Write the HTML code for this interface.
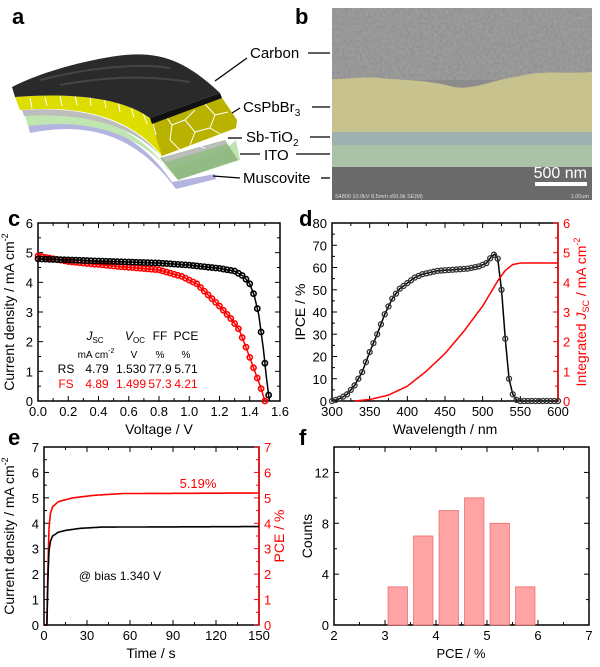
<!DOCTYPE html>
<html><head><meta charset="utf-8">
<style>
html,body{margin:0;padding:0;background:#fff;}
svg{display:block;font-family:"Liberation Sans",Arial,sans-serif;}
</style></head>
<body>
<svg id="s" width="600" height="667" viewBox="0 0 600 667" xmlns="http://www.w3.org/2000/svg">
<defs>
<filter id="tex" x="0" y="0" width="100%" height="100%">
<feTurbulence type="fractalNoise" baseFrequency="0.35" numOctaves="2" seed="3"/>
<feColorMatrix type="matrix" values="0 0 0 0 0.5  0 0 0 0 0.5  0 0 0 0 0.5  0 0 0 0.9 0"/>
<feComposite in2="SourceGraphic" operator="in"/>
</filter>
</defs>
<g font-weight="bold" font-size="22">
<text x="12" y="24">a</text><text x="295" y="24">b</text>
<text x="8" y="226">c</text><text x="299" y="226">d</text>
<text x="8" y="445">e</text><text x="299" y="445">f</text>
</g>
<g>
<path d="M28,125 C95,112 140,135 172,182 L215,174 L216,179 L176,189 C140,140 95,120 30,133 Z" fill="#b4b4e0"/>
<path d="M25,116 C92,108 138,128 168,170 L222,152 L236,140 L240,160 L178,180 C142,135 95,118 28,126 Z" fill="#bfe6b0"/>
<path d="M160,158 L225,140 L238,160 L178,180 Z" fill="#8db680" opacity="0.9"/>
<path d="M22,110 C90,105 137,124 162,158 L225,140 L226,144 L166,162 C138,128 92,112 24,116 Z" fill="#bdbdbd"/>
<path d="M15,97 C80,92 125,100 150,118 L222,98 L237,120 L236,128 L162,156 C135,122 90,104 20,110 Z" fill="#dddd00"/>
<path d="M150,118 L222,98 L237,120 L236,128 L162,156 Z" fill="#b9b300"/>
<g stroke="#fff" stroke-width="1" fill="none">
<path d="M30,98 L32,108 M45,97 L47,106 M60,96 L62,106 M75,95 L77,105 M90,96 L91,106 M104,97 L106,108 M118,100 L120,112 M130,104 L134,117 M142,110 L147,124 M152,120 L156,135"/>
<path d="M165,115 L172,125 L185,120 L195,110 M172,125 L170,140 L180,150 M185,120 L195,132 L210,128 L215,115 L205,104 M195,132 L190,145 M210,128 L222,135 M180,150 L195,145 L205,148 M215,115 L228,112"/>
</g>
<path d="M12,87 C45,70 95,58 125,55 C160,52 185,60 220,93 L150,118 C125,100 80,92 15,97 Z" fill="#2a2a2a"/>
<path d="M150,118 L220,93 L222,98 L152,124 Z" fill="#111"/>
<path d="M40,80 C80,70 130,62 170,68 M60,85 C100,78 140,74 190,82" stroke="#444" stroke-width="2" fill="none"/>
</g>
<g font-size="15" fill="#000">
<text x="250" y="58">Carbon</text>
<text x="243" y="112">CsPbBr<tspan font-size="10" dy="4">3</tspan></text>
<text x="246" y="142">Sb-TiO<tspan font-size="10" dy="4">2</tspan></text>
<text x="264" y="160">ITO</text>
<text x="243" y="183">Muscovite</text>
</g>
<g stroke="#000" stroke-width="1.3">
<line x1="308" y1="53" x2="330" y2="53"/><line x1="247" y1="58" x2="215" y2="81"/>
<line x1="312" y1="107" x2="330" y2="107"/><line x1="240" y1="108" x2="232" y2="113"/>
<line x1="310" y1="137" x2="330" y2="137"/><line x1="242" y1="138" x2="228" y2="138"/>
<line x1="296" y1="154" x2="330" y2="154"/><line x1="260" y1="154" x2="240" y2="154"/>
<line x1="321" y1="178" x2="330" y2="178"/><line x1="240" y1="178" x2="213" y2="176"/>
</g>
<g>
<rect x="332" y="8" width="260" height="192" fill="#6e6e6e"/>
<path d="M332,8 H592 V72 C570,74 540,70 520,76 C490,80 470,92 450,86 C430,80 400,80 380,78 C360,76 345,80 332,79 Z" fill="#8c8c8c"/>
<rect x="332" y="8" width="260" height="72" fill="#999" filter="url(#tex)" opacity="0.55"/>
<path d="M332,79 C345,80 360,76 380,78 C400,80 430,80 450,86 C470,92 490,80 520,76 C540,70 570,74 592,72 V132 H332 Z" fill="#c8c38e"/>
<rect x="332" y="132" width="260" height="13" fill="#9fb0b0"/>
<rect x="332" y="145" width="260" height="22" fill="#a9c2a8"/>
<rect x="332" y="167" width="260" height="33" fill="#6a6a6a"/>
<text x="587" y="178" font-size="16" fill="#fff" text-anchor="end">500 nm</text>
<rect x="535" y="182" width="52" height="4" fill="#fff"/>
<text x="335" y="198" font-size="5.5" fill="#ddd">S4800 10.0kV 8.5mm x50.0k SE(M)</text>
<text x="589" y="198" font-size="5.5" fill="#ddd" text-anchor="end">1.00um</text>
</g>
<g id="plots"></g>
</svg>
<script>
const P=document.getElementById('plots');
let h='';
function T(x,y,s,o){o=o||{};h+=`<text x="${x}" y="${y}" font-size="${o.fs||13}" fill="${o.c||'#000'}" text-anchor="${o.a||'middle'}"${o.r?` transform="rotate(-90 ${x} ${y})"`:''}>${s}</text>`;}
function L(x1,y1,x2,y2,c,w){h+=`<line x1="${x1}" y1="${y1}" x2="${x2}" y2="${y2}" stroke="${c||'#000'}" stroke-width="${w||1}"/>`;}
function interp(pts,x){for(let i=0;i<pts.length-1;i++){if(x>=pts[i][0]&&x<=pts[i+1][0]){const t=(x-pts[i][0])/(pts[i+1][0]-pts[i][0]);return pts[i][1]+t*(pts[i+1][1]-pts[i][1]);}}return pts[pts.length-1][1];}
function axes(x0,x1,y0,y1,xmin,xmax,xt,xminor,ymin,ymax,yt,yminor,fmtx,fmty,rightRed){
 h+=`<rect x="${x0}" y="${y1}" width="${x1-x0}" height="${y0-y1}" fill="none" stroke="#000" stroke-width="1.5"/>`;
 const X=v=>x0+(v-xmin)/(xmax-xmin)*(x1-x0), Y=v=>y0-(v-ymin)/(ymax-ymin)*(y0-y1);
 for(let v=xmin;v<=xmax+1e-9;v+=xminor){const maj=Math.abs(Math.round(v/xt)*xt-v)<1e-6;L(X(v),y0,X(v),y0-(maj?5:3));L(X(v),y1,X(v),y1+(maj?5:3));}
 for(let v=xmin;v<=xmax+1e-9;v+=xt)T(X(v),y0+15,fmtx(v));
 for(let v=ymin;v<=ymax+1e-9;v+=yminor){const maj=Math.abs(Math.round(v/yt)*yt-v)<1e-6;L(x0,Y(v),x0+(maj?5:3),Y(v));if(!rightRed)L(x1,Y(v),x1-(maj?5:3),Y(v));}
 for(let v=ymin;v<=ymax+1e-9;v+=yt)T(x0-5,Y(v)+5,fmty(v),{a:'end'});
 return [X,Y];
}
{const [X,Y]=axes(38,280,401,223,0,1.6,0.2,0.1,0,6,1,0.5,v=>v.toFixed(1),v=>v.toFixed(0));
 const rs=[[0,4.79],[0.4,4.72],[0.8,4.65],[1.0,4.58],[1.2,4.47],[1.3,4.38],[1.36,4.2],[1.4,3.95],[1.43,3.55],[1.46,2.9],[1.49,1.75],[1.51,0.8],[1.53,0]];
 const fs=[[0,4.89],[0.2,4.7],[0.5,4.55],[0.8,4.42],[0.95,4.2],[1.05,3.95],[1.12,3.6],[1.2,3.2],[1.28,2.75],[1.33,2.4],[1.38,1.75],[1.43,1.05],[1.47,0.5],[1.5,0]];
 for(const [d,c] of [[fs,'#f00'],[rs,'#000']]){let p='';d.forEach((q,i)=>p+=(i?'L':'M')+X(q[0]).toFixed(1)+','+Y(q[1]).toFixed(1));h+=`<path d="${p}" fill="none" stroke="${c}" stroke-width="1.5"/>`;
 for(let v=0;v<=d[d.length-1][0];v+=0.025){h+=`<circle cx="${X(v)}" cy="${Y(interp(d,v))}" r="2.6" fill="none" stroke="${c}" stroke-width="1.6"/>`;}}
 T(14,312,'Current density / mA cm<tspan font-size="9" dy="-6">-2</tspan>',{r:1,fs:14});
 T(159,434,'Voltage / V',{fs:14});
 T(95,340,'<tspan font-style="italic">J</tspan><tspan font-size="8" dy="3">SC</tspan>',{fs:12});T(135,340,'<tspan font-style="italic">V</tspan><tspan font-size="8" dy="3">OC</tspan>',{fs:12});T(160,340,'FF',{fs:12});T(186,340,'PCE',{fs:12});
 T(96,358,'mA cm<tspan font-size="7" dy="-5">-2</tspan>',{fs:10});T(134,358,'V',{fs:10});T(160,358,'%',{fs:10});T(186,358,'%',{fs:10});
 [[373,'RS','4.79','1.530','77.9','5.71','#000'],[388,'FS','4.89','1.499','57.3','4.21','#f00']].forEach(r=>{const o={c:r[6],fs:12};T(66,r[0],r[1],o);T(97,r[0],r[2],o);T(131,r[0],r[3],o);T(160,r[0],r[4],o);T(186,r[0],r[5],o);});
}
{const [X,Y]=axes(332,558,401,223,300,600,50,25,0,80,10,5,v=>v.toFixed(0),v=>v.toFixed(0),true);
 L(558,223,558,401,'#f00',1.5);
 for(let v=0;v<=6;v+=0.5){const y=401-v/6*178;const maj=v%1==0;L(558,y,558-(maj?5:3),y,'#f00');if(maj)T(563,y+5,v,{a:'start',c:'#f00'});}
 const ip=[[300,0],[310,1],[320,3],[330,7],[340,13],[350,22],[360,30],[370,39],[380,46],[390,50.5],[400,53],[410,55.5],[420,57],[440,58.5],[460,59],[480,59.5],[495,60.5],[505,62],[512,65],[516,66],[520,64],[525,50],[530,28],[535,10],[540,3],[545,0.5],[550,0],[600,0]];
 let p='';for(let v=300;v<=600;v+=1)p+=(v>300?'L':'M')+X(v).toFixed(1)+','+Y(interp(ip,v)).toFixed(1);h+=`<path d="${p}" fill="none" stroke="#000" stroke-width="1.5"/>`;
 for(let v=300;v<=600;v+=5)h+=`<circle cx="${X(v)}" cy="${Y(interp(ip,v))}" r="2.5" fill="none" stroke="#333" stroke-width="1.3"/>`;
 const ij=[[330,0],[350,0.05],[375,0.2],[400,0.5],[425,1.0],[450,1.6],[475,2.35],[500,3.2],[520,4.05],[530,4.4],[540,4.6],[550,4.65],[600,4.65]];
 p='';for(let v=330;v<=600;v+=1)p+=(v>330?'L':'M')+X(v).toFixed(1)+','+(401-interp(ij,v)/6*178).toFixed(1);h+=`<path d="${p}" fill="none" stroke="#f00" stroke-width="1.5"/>`;
 T(305,312,'IPCE / %',{r:1,fs:14});
 T(445,434,'Wavelength / nm',{fs:14});
 T(586,312,'Integrated <tspan font-style="italic">J</tspan><tspan font-size="9" dy="3">SC</tspan><tspan dy="-3"> / mA cm</tspan><tspan font-size="9" dy="-6">-2</tspan>',{r:1,fs:14,c:'#f00'});
}
{const [X,Y]=axes(44,259,625,447,0,150,30,15,0,7,1,0.5,v=>v.toFixed(0),v=>v.toFixed(0),true);
 L(259,447,259,625,'#f00',1.5);
 for(let v=0;v<=7;v+=0.5){const y=625-v/7*178;const maj=v%1==0;L(259,y,259-(maj?5:3),y,'#f00');if(maj)T(264,y+5,v,{a:'start',c:'#f00'});}
 const cur=[[0,0],[2,0],[2.8,2],[3.5,2.9],[4.5,3.3],[6,3.5],[10,3.65],[15,3.72],[25,3.8],[40,3.85],[150,3.87]];
 const pce=[[0,0],[2,0],[2.6,2],[3.5,3.8],[4.5,4.4],[6,4.65],[10,4.85],[20,5.0],[35,5.1],[55,5.17],[150,5.19]];
 for(const [d,c] of [[pce,'#f00'],[cur,'#000']]){let p='';let i=0;for(let v=0;v<=150;v+=0.5){p+=(i++?'L':'M')+X(v).toFixed(1)+','+Y(interp(d,v)).toFixed(1);}h+=`<path d="${p}" fill="none" stroke="${c}" stroke-width="1.6"/>`;}
 T(198,488,'5.19%',{c:'#f00'});
 T(120,580,'@ bias 1.340 V',{fs:12});
 T(14,536,'Current density / mA cm<tspan font-size="9" dy="-6">-2</tspan>',{r:1,fs:14});
 T(284,536,'PCE / %',{r:1,fs:14,c:'#f00'});
 T(151,658,'Time / s',{fs:14});
}
{const [X,Y]=axes(334,589,625,447,2,7,1,0.5,0,14,4,2,v=>v.toFixed(0),v=>v.toFixed(0));
 [[3.25,3],[3.75,7],[4.25,9],[4.75,10],[5.25,8],[5.75,3]].forEach(b=>{h+=`<rect x="${X(b[0]-0.19)}" y="${Y(b[1])}" width="${0.38*51}" height="${625-Y(b[1])}" fill="#ffa4a4" stroke="#f06a6a" stroke-width="0.8"/>`;});
 T(312,536,'Counts',{r:1,fs:14});
 T(461,658,'PCE / %',{fs:13});
}
P.innerHTML=h;
</script>
</body></html>
